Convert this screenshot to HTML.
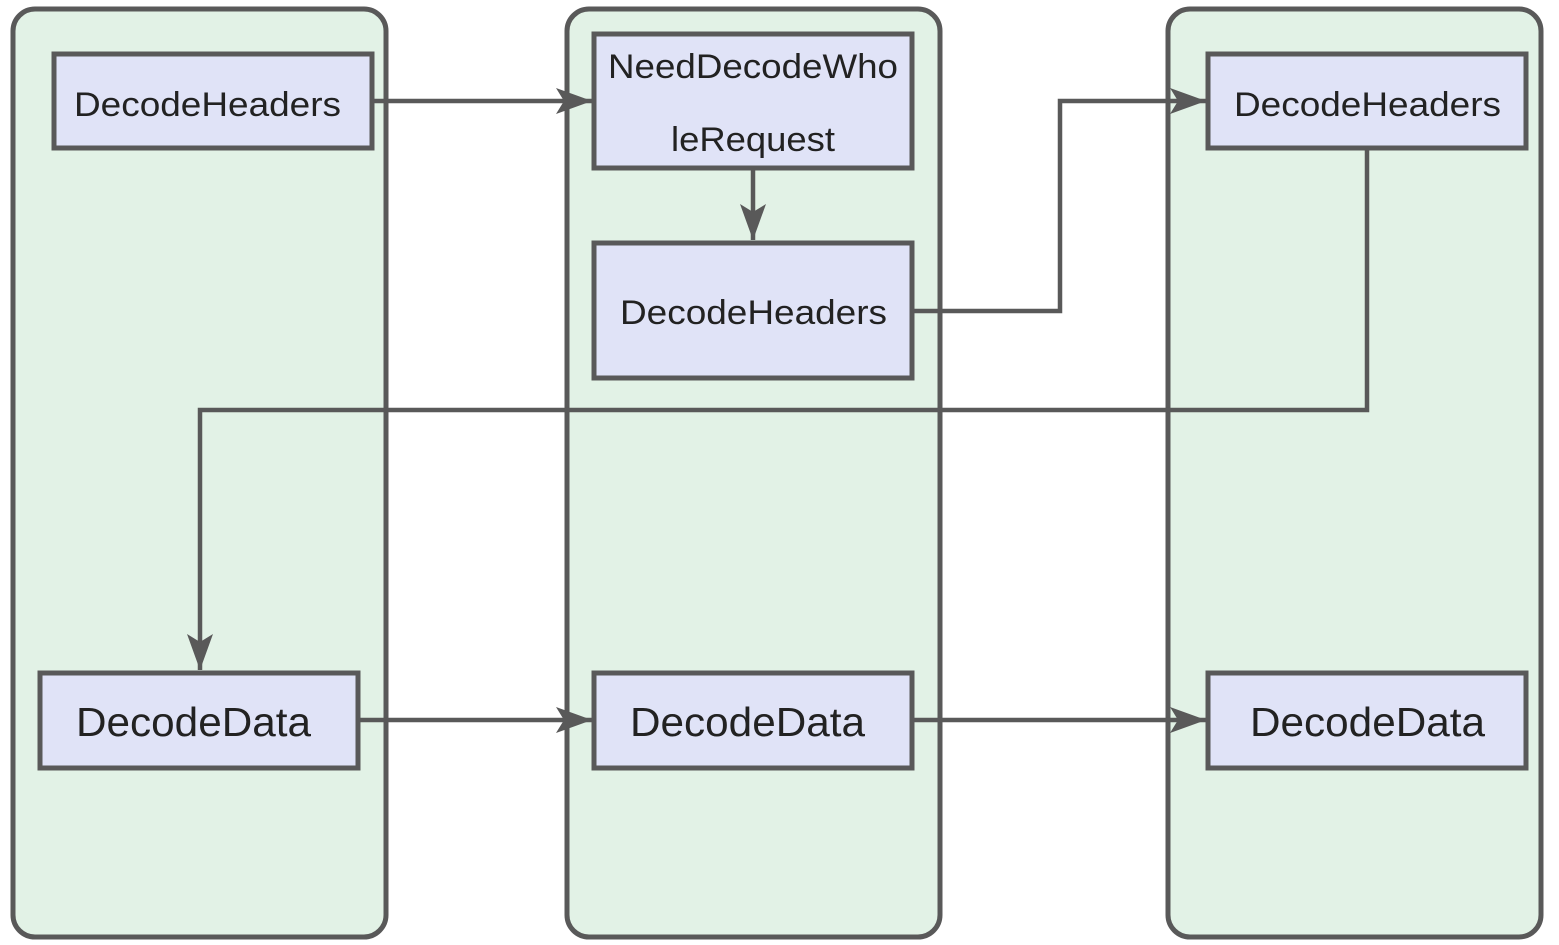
<!DOCTYPE html>
<html><head><meta charset="utf-8"><style>html,body{margin:0;padding:0;background:#fff}svg{display:block}</style></head>
<body>
<svg width="1559" height="945" viewBox="0 0 1559 945" xmlns="http://www.w3.org/2000/svg">
<defs>
<marker id="a" markerWidth="40" markerHeight="40" refX="36" refY="13" markerUnits="userSpaceOnUse" orient="auto">
<path d="M0,0 L36,13 L0,26 L8,13 Z" fill="#595959"/>
</marker>
</defs>
<g fill="#e2f2e6" stroke="#595959" stroke-width="5">
<rect x="13" y="9" width="373" height="928" rx="22"/>
<rect x="567" y="9" width="373" height="928" rx="22"/>
<rect x="1168" y="9" width="373" height="928" rx="22"/>
</g>
<g fill="none" stroke="#595959" stroke-width="4.5">
<path d="M372,101 H592" marker-end="url(#a)"/>
<path d="M753,168 V240" marker-end="url(#a)"/>
<path d="M912,311 H1060 V101 H1206" marker-end="url(#a)"/>
<path d="M1367,148 V410 H200 V670" marker-end="url(#a)"/>
<path d="M358,720 H592" marker-end="url(#a)"/>
<path d="M912,720 H1206" marker-end="url(#a)"/>
</g>
<g fill="#e0e3f7" stroke="#595959" stroke-width="5">
<rect x="54" y="54" width="318" height="94"/>
<rect x="594" y="34" width="318" height="134"/>
<rect x="594" y="243" width="318" height="135"/>
<rect x="1208" y="54" width="318" height="94"/>
<rect x="40" y="673" width="318" height="95"/>
<rect x="594" y="673" width="318" height="95"/>
<rect x="1208" y="673" width="318" height="95"/>
</g>
<g font-family="Liberation Sans, sans-serif" fill="#222">
<text x="74" y="116" font-size="34" textLength="267" lengthAdjust="spacingAndGlyphs">DecodeHeaders</text>
<text x="608" y="78" font-size="34" textLength="290" lengthAdjust="spacingAndGlyphs">NeedDecodeWho</text>
<text x="671" y="151" font-size="34" textLength="164" lengthAdjust="spacingAndGlyphs">leRequest</text>
<text x="620" y="324" font-size="34" textLength="267" lengthAdjust="spacingAndGlyphs">DecodeHeaders</text>
<text x="1234" y="116" font-size="34" textLength="267" lengthAdjust="spacingAndGlyphs">DecodeHeaders</text>
<text x="76" y="736" font-size="41" textLength="235" lengthAdjust="spacingAndGlyphs">DecodeData</text>
<text x="630" y="736" font-size="41" textLength="235" lengthAdjust="spacingAndGlyphs">DecodeData</text>
<text x="1250" y="736" font-size="41" textLength="235" lengthAdjust="spacingAndGlyphs">DecodeData</text>
</g>
</svg>
</body></html>
